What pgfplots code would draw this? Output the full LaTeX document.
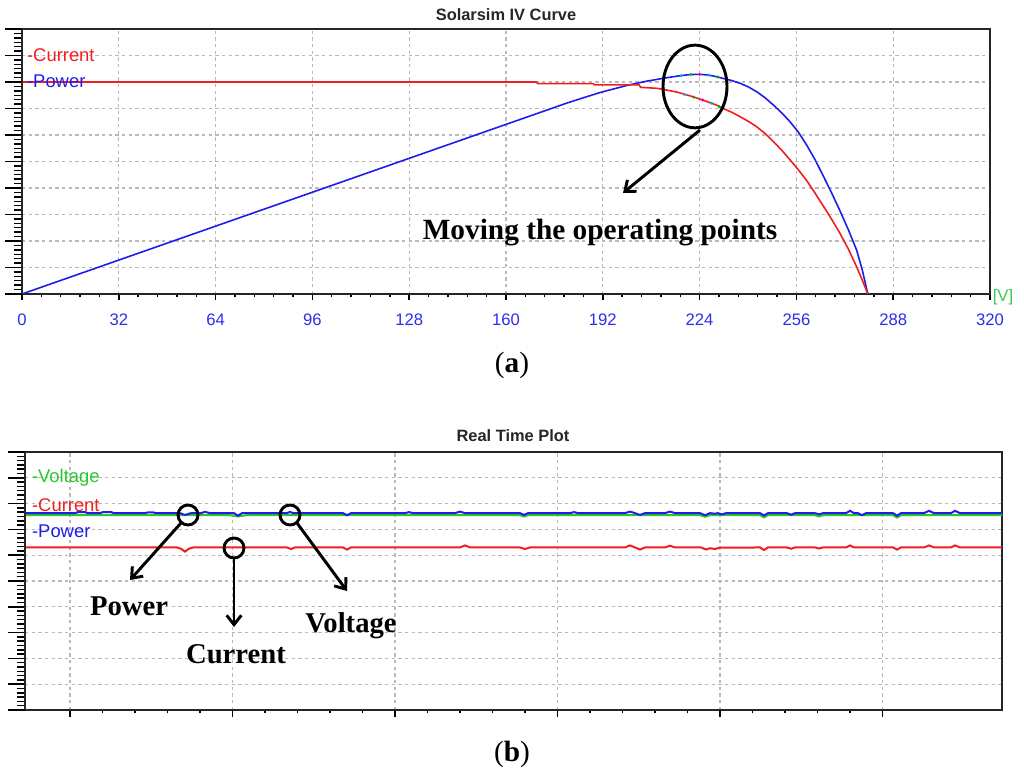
\documentclass[border=0pt]{standalone}
\usepackage{pgfplots}
\pgfplotsset{compat=1.18}
\usepackage{fontspec}
\setmainfont{Liberation Serif}
\setsansfont{Liberation Sans}
\usetikzlibrary{arrows.meta}
\definecolor{cred}{RGB}{240,30,30}
\definecolor{cblue}{RGB}{30,30,235}
\definecolor{cgreen}{RGB}{40,200,40}
\definecolor{vgreen}{RGB}{60,200,80}
\definecolor{tickblue}{RGB}{45,45,235}
\definecolor{gridgray}{RGB}{185,185,185}
\tikzset{legtxt/.style={anchor=west, inner sep=0pt, font=\sffamily\fontsize{13.8}{15}\selectfont}}
\begin{document}
\begin{tikzpicture}[x=0.75pt,y=0.75pt]
\path[use as bounding box] (0,0) rectangle (1024,779);
\pgfplotsset{
  myframe/.style={
    scale only axis,
    axis line style={line width=1.4pt, black!85},
    grid=major,
    major grid style={gridgray, dash pattern=on 2.5pt off 2.5pt, line width=0.9pt},
    ymajorticks=false, yminorticks=false,
    tick align=outside,
    xtick pos=bottom,
    major tick length=4.5pt, minor tick length=2.5pt,
    every tick/.append style={line width=1.1pt, black},
    every minor tick/.append style={line width=1pt, black},
    ymin=0, ymax=10, ytick={0,...,10}, yticklabels={},
  },
  ycomb/.style={
    scale only axis,
    hide x axis,
    axis y line*=left,
    axis line style={line width=1.4pt, black!85},
    ymin=0, ymax=10, ytick={0,...,10}, yticklabels={},
    minor y tick num=5,
    tick align=outside,
    major tick length=12.5pt, minor tick length=6pt,
    every tick/.append style={line width=1.2pt, black},
    every minor tick/.append style={line width=1.1pt, black},
  },
}
% ---------------- top panel ----------------
\begin{axis}[myframe, at={(16.5pt,363.75pt)}, anchor=south west, width=726pt, height=198.75pt,
  xmin=0, xmax=320,
  xtick={0,32,...,320}, xticklabels={0,32,64,96,128,160,192,224,256,288,320},
  minor x tick num=4,
  xticklabel style={font=\sffamily\fontsize{12.5}{14}\selectfont, text=tickblue},
  xticklabel shift=7pt,
]
\addplot[cblue, line width=1.2pt] coordinates {
(0,0) (32,1.28) (64,2.56) (96,3.84) (128,5.12) (160,6.4) (180,7.2) (186,7.42) (191,7.6)
(196,7.75) (200,7.87) (206,8.02) (212,8.14) (216.5,8.22) (220.8,8.28) (224,8.29) (227,8.26)
(229.6,8.2) (231.6,8.14) (234.5,8.06) (237.4,7.95) (240.2,7.81) (242.9,7.63) (245.7,7.40)
(248.4,7.13) (251.2,6.83) (253.9,6.5) (256.7,6.1) (259.4,5.62) (262.2,5.06) (264.9,4.45)
(267.7,3.8) (270.4,3.14) (273.2,2.42) (275.9,1.66) (277.8,0.9) (279.6,0)};
\addplot[cred, line width=1.2pt] coordinates {
(0,8.0) (170,8.0) (170.5,7.94) (188.8,7.94) (189.3,7.89) (204,7.89) (204.5,7.8) (210,7.76)
(212,7.72) (216.5,7.62) (220.8,7.48) (225,7.32) (229.6,7.13) (231.8,7.0) (234.6,6.86)
(237.4,6.69) (240.2,6.51) (242.9,6.31) (245.7,6.05) (248.4,5.75) (251.2,5.42) (253.9,5.06)
(256.7,4.68) (259.4,4.28) (262.2,3.8) (264.9,3.32) (267.7,2.81) (270.4,2.29) (273.2,1.69)
(275.9,1.03) (277.8,0.52) (279.6,0)};
\addplot[only marks, mark=*, mark size=0.9pt, cyan] coordinates {(218,8.25) (227,8.26) (219,7.53) (228,7.2)};
\addplot[only marks, mark=*, mark size=0.9pt, green!70!black] coordinates {(221,8.28) (230,8.19) (222,7.43) (230.5,7.07)};
\addplot[only marks, mark=*, mark size=0.9pt, magenta] coordinates {(224,8.29) (225,7.32)};
\node[legtxt, text=cred] at (rel axis cs:0.005,0.902) {-Current};
\node[legtxt, text=cblue] at (rel axis cs:0.005,0.804) {-Power};
\end{axis}
\begin{axis}[ycomb, at={(16.5pt,363.75pt)}, anchor=south west, width=726pt, height=198.75pt, xmin=0, xmax=320]
\end{axis}
% ---------------- bottom panel ----------------
\begin{axis}[myframe, at={(18.75pt,51.75pt)}, anchor=south west, width=732.75pt, height=193.5pt,
  xmin=0, xmax=977,
  xtick={45,207.5,370,532.5,695,857.5}, xticklabels={},
  minor x tick num=4,
  major tick length=5.5pt, minor tick length=2.5pt,
]
\addplot[cgreen, line width=1.5pt] coordinates {
(0,7.55) (205,7.55) (213,7.50) (221,7.55) (495,7.55) (499,7.50) (503,7.55)
(675,7.55) (680,7.49) (685,7.55) (735,7.55) (739,7.47) (743,7.55) (790,7.55) (794,7.50) (798,7.55)
(868,7.55) (872,7.46) (876,7.55) (977,7.55)};
\addplot[cblue, line width=1.5pt] coordinates {
(0,7.63) (50,7.63) (53,7.67) (60,7.67) (63,7.63) (75,7.63) (78,7.67) (86,7.67) (89,7.63)
(120,7.63) (123,7.66) (128,7.66) (131,7.63) (155,7.63) (160,7.56) (166,7.63)
(176,7.63) (180,7.68) (185,7.63) (209,7.63) (213,7.53) (217,7.63) (262,7.63) (265,7.68) (268,7.63)
(318,7.63) (322,7.55) (326,7.63) (380,7.63) (384,7.67) (388,7.63) (430,7.63) (435,7.69) (440,7.63)
(495,7.63) (499,7.56) (503,7.63) (545,7.63) (549,7.67) (553,7.63)
(600,7.63) (605,7.69) (610,7.63) (615,7.56) (620,7.63) (640,7.63) (645,7.69) (650,7.63)
(675,7.63) (680,7.55) (685,7.63) (690,7.61) (693,7.63) (697,7.58) (701,7.63)
(735,7.63) (739,7.54) (743,7.63) (762,7.63) (766,7.57) (770,7.63) (790,7.63) (794,7.58) (798,7.63)
(821,7.63) (825,7.72) (829,7.63) (833,7.63) (837,7.55) (841,7.63) (868,7.63) (872,7.53) (876,7.63)
(899,7.63) (904,7.72) (909,7.63) (926,7.63) (930,7.72) (935,7.63) (977,7.63)};
\addplot[cred, line width=1.5pt] coordinates {
(0,6.30) (152,6.30) (156,6.25) (160,6.14) (164,6.25) (168,6.30) (262,6.30) (266,6.24) (270,6.30)
(318,6.30) (322,6.22) (326,6.30) (435,6.30) (440,6.38) (445,6.30) (495,6.30) (500,6.24) (505,6.30)
(600,6.30) (605,6.38) (610,6.30) (615,6.22) (620,6.30) (640,6.30) (645,6.37) (650,6.30)
(676,6.30) (681,6.22) (685,6.27) (690,6.24) (695,6.30) (700,6.29) (735,6.30) (739,6.20) (743,6.30)
(762,6.30) (766,6.25) (770,6.30) (790,6.30) (794,6.26) (798,6.30) (821,6.30) (825,6.38) (829,6.30)
(835,6.30) (868,6.30) (872,6.22) (876,6.30) (899,6.30) (904,6.38) (909,6.30) (926,6.30) (930,6.38)
(935,6.30) (977,6.30)};
\node[legtxt, text=cgreen] at (rel axis cs:0.007,0.899) {-Voltage};
\node[legtxt, text=cred] at (rel axis cs:0.007,0.792) {-Current};
\node[legtxt, text=cblue] at (rel axis cs:0.007,0.691) {-Power};
\end{axis}
\begin{axis}[ycomb, at={(18.75pt,51.75pt)}, anchor=south west, width=732.75pt, height=193.5pt, xmin=0, xmax=977]
\end{axis}
% ---------------- titles & annotations ----------------
\node[anchor=base, font=\sffamily\bfseries\fontsize{12.3}{14}\selectfont, text=black!85] at (506,758) {Solarsim IV Curve};
\node[anchor=base, font=\sffamily\bfseries\fontsize{12.3}{14}\selectfont, text=black!85] at (513,337) {Real Time Plot};
\node[font=\sffamily\fontsize{12.5}{14}\selectfont, text=vgreen] at (1003,482) {[V]};
\draw[line width=2.2pt] (695,692.5) ellipse [x radius=24pt, y radius=31pt];
\draw[line width=2.2pt, -{Straight Barb[length=7pt,width=11pt,line width=2.2pt]}] (700,649) -- (623,586);
\node[anchor=base, font=\bfseries\fontsize{22}{26}\selectfont] at (600,539) {Moving the operating points};
\node[anchor=base, font=\fontsize{22}{26}\selectfont] at (512,406) {(\textbf{a})};
\node[anchor=base, font=\fontsize{22}{26}\selectfont] at (512,18) {(\textbf{b})};
\draw[line width=2.2pt] (188,264) circle [radius=7.5pt];
\draw[line width=2.2pt] (234,231) circle [radius=7.5pt];
\draw[line width=2.2pt] (290,264) circle [radius=7.5pt];
\draw[line width=2.2pt, -{Straight Barb[length=7pt,width=11pt,line width=2.2pt]}] (181,256) -- (130,199);
\draw[line width=2.2pt, -{Straight Barb[length=7pt,width=11pt,line width=2.2pt]}] (234,221) -- (234,152);
\draw[line width=2.2pt, -{Straight Barb[length=7pt,width=11pt,line width=2.2pt]}] (297,256) -- (347,188);
\node[anchor=base, font=\bfseries\fontsize{21.5}{26}\selectfont] at (129,164) {Power};
\node[anchor=base, font=\bfseries\fontsize{21.5}{26}\selectfont] at (236,116) {Current};
\node[anchor=base, font=\bfseries\fontsize{21.5}{26}\selectfont] at (351,147) {Voltage};
\end{tikzpicture}
\end{document}
